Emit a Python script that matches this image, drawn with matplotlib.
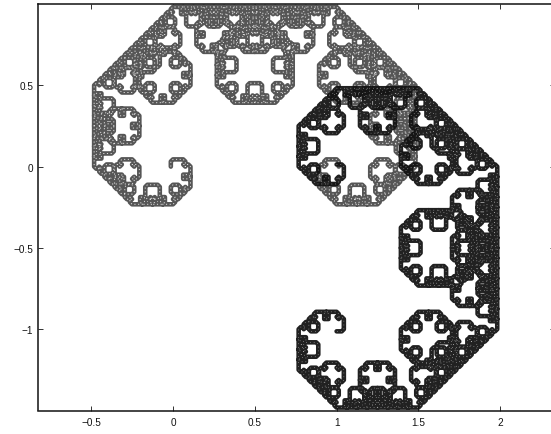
import numpy as np
import matplotlib
matplotlib.use("Agg")
import matplotlib.pyplot as plt

plt.rcParams['font.family'] = ['Liberation Sans', 'DejaVu Sans']

W, H = 551, 435
step_size = 1 / 32
gray_start = (0.0, 0.0)
black_start = (1.0, 0.0)
# traced path as moves of one grid step: 0 north, 1 east, 2 south, 3 west
gray_moves = (
"0112122312232330122323302330300112232330233030012330300130010112"
"1223233023303001233030013001011223303001300101123001011201121223"
"1223233023303001233030013001011223303001300101123001011201121223"
"2330300130010112300101120112122330010112011212230112122312232330"
"1223233023303001233030013001011223303001300101123001011201121223"
"2330300130010112300101120112122330010112011212230112122312232330"
"2330300130010112300101120112122330010112011212230112122312232330"
"3001011201121223011212231223233001121223122323301223233023303001"
"1223233023303001233030013001011223303001300101123001011201121223"
"2330300130010112300101120112122330010112011212230112122312232330"
"2330300130010112300101120112122330010112011212230112122312232330"
"3001011201121223011212231223233001121223122323301223233023303001"
"2330300130010112300101120112122330010112011212230112122312232330"
"3001011201121223011212231223233001121223122323301223233023303001"
"3001011201121223011212231223233001121223122323301223233023303001"
"0112122312232330122323302330300112232330233030012330300130010112"
)
black_moves = (
"1223233023303001233030013001011223303001300101123001011201121223"
"2330300130010112300101120112122330010112011212230112122312232330"
"2330300130010112300101120112122330010112011212230112122312232330"
"3001011201121223011212231223233001121223122323301223233023303001"
"2330300130010112300101120112122330010112011212230112122312232330"
"3001011201121223011212231223233001121223122323301223233023303001"
"3001011201121223011212231223233001121223122323301223233023303001"
"0112122312232330122323302330300112232330233030012330300130010112"
"2330300130010112300101120112122330010112011212230112122312232330"
"3001011201121223011212231223233001121223122323301223233023303001"
"3001011201121223011212231223233001121223122323301223233023303001"
"0112122312232330122323302330300112232330233030012330300130010112"
"3001011201121223011212231223233001121223122323301223233023303001"
"0112122312232330122323302330300112232330233030012330300130010112"
"0112122312232330122323302330300112232330233030012330300130010112"
"1223233023303001233030013001011223303001300101123001011201121223"
)
x_ticks = [-0.5, 0, 0.5, 1, 1.5, 2]
x_labels = ['\u22120.5', '0', '0.5', '1', '1.5', '2']
y_ticks = [-1, -0.5, 0, 0.5]
y_labels = ['\u22121', '\u22120.5', '0', '0.5']

DX = {'0': 0, '1': 1, '2': 0, '3': -1}
DY = {'0': 1, '1': 0, '2': -1, '3': 0}
BULGE = 0.42  # the traced stroke sits this share of a step to the left of its move


def walk(start, moves):
    cx, cy = start
    xs, ys = [], []
    for m in moves:
        dx, dy = DX[m] * step_size, DY[m] * step_size
        ox, oy = -dy * BULGE, dx * BULGE
        xs += [cx + ox, cx + dx + ox]
        ys += [cy + oy, cy + dy + oy]
        cx += dx
        cy += dy
    return np.array(xs), np.array(ys)


fig = plt.figure(figsize=(W / 100, H / 100), dpi=100)
ax = fig.add_axes([38 / W, 1 - 411.5 / H, (555 - 38) / W, (411.5 - 5) / H])

gx, gy = walk(gray_start, gray_moves)
bx, by = walk(black_start, black_moves)
ink = dict(solid_joinstyle='round', solid_capstyle='round')
ax.plot(gx, gy, color='#565656', lw=3.3, **ink)
ax.plot(gx, gy, color='white', lw=0.7, ls=(0, (1.2, 2.6)), alpha=0.8)
ax.plot(bx, by, color='#101010', lw=3.3, alpha=0.93, **ink)
ax.plot(bx, by, color='white', lw=0.5, ls=(0, (1.0, 4.5)), alpha=0.7)

ax.set_xlim(-0.825, 2.335)
ax.set_ylim(-1.5, 1.0)
ax.set_xticks(x_ticks, x_labels)
ax.set_yticks(y_ticks, y_labels)
ax.tick_params(direction='in', length=3.5, width=0.6, top=True, right=True,
               labelsize=7.2, pad=3.5, colors='#111111')
ax.tick_params(axis='x', pad=5)
for s in ax.spines.values():
    s.set_linewidth(1.1)
    s.set_color('#111111')

fig.savefig('out.png', dpi=100)
